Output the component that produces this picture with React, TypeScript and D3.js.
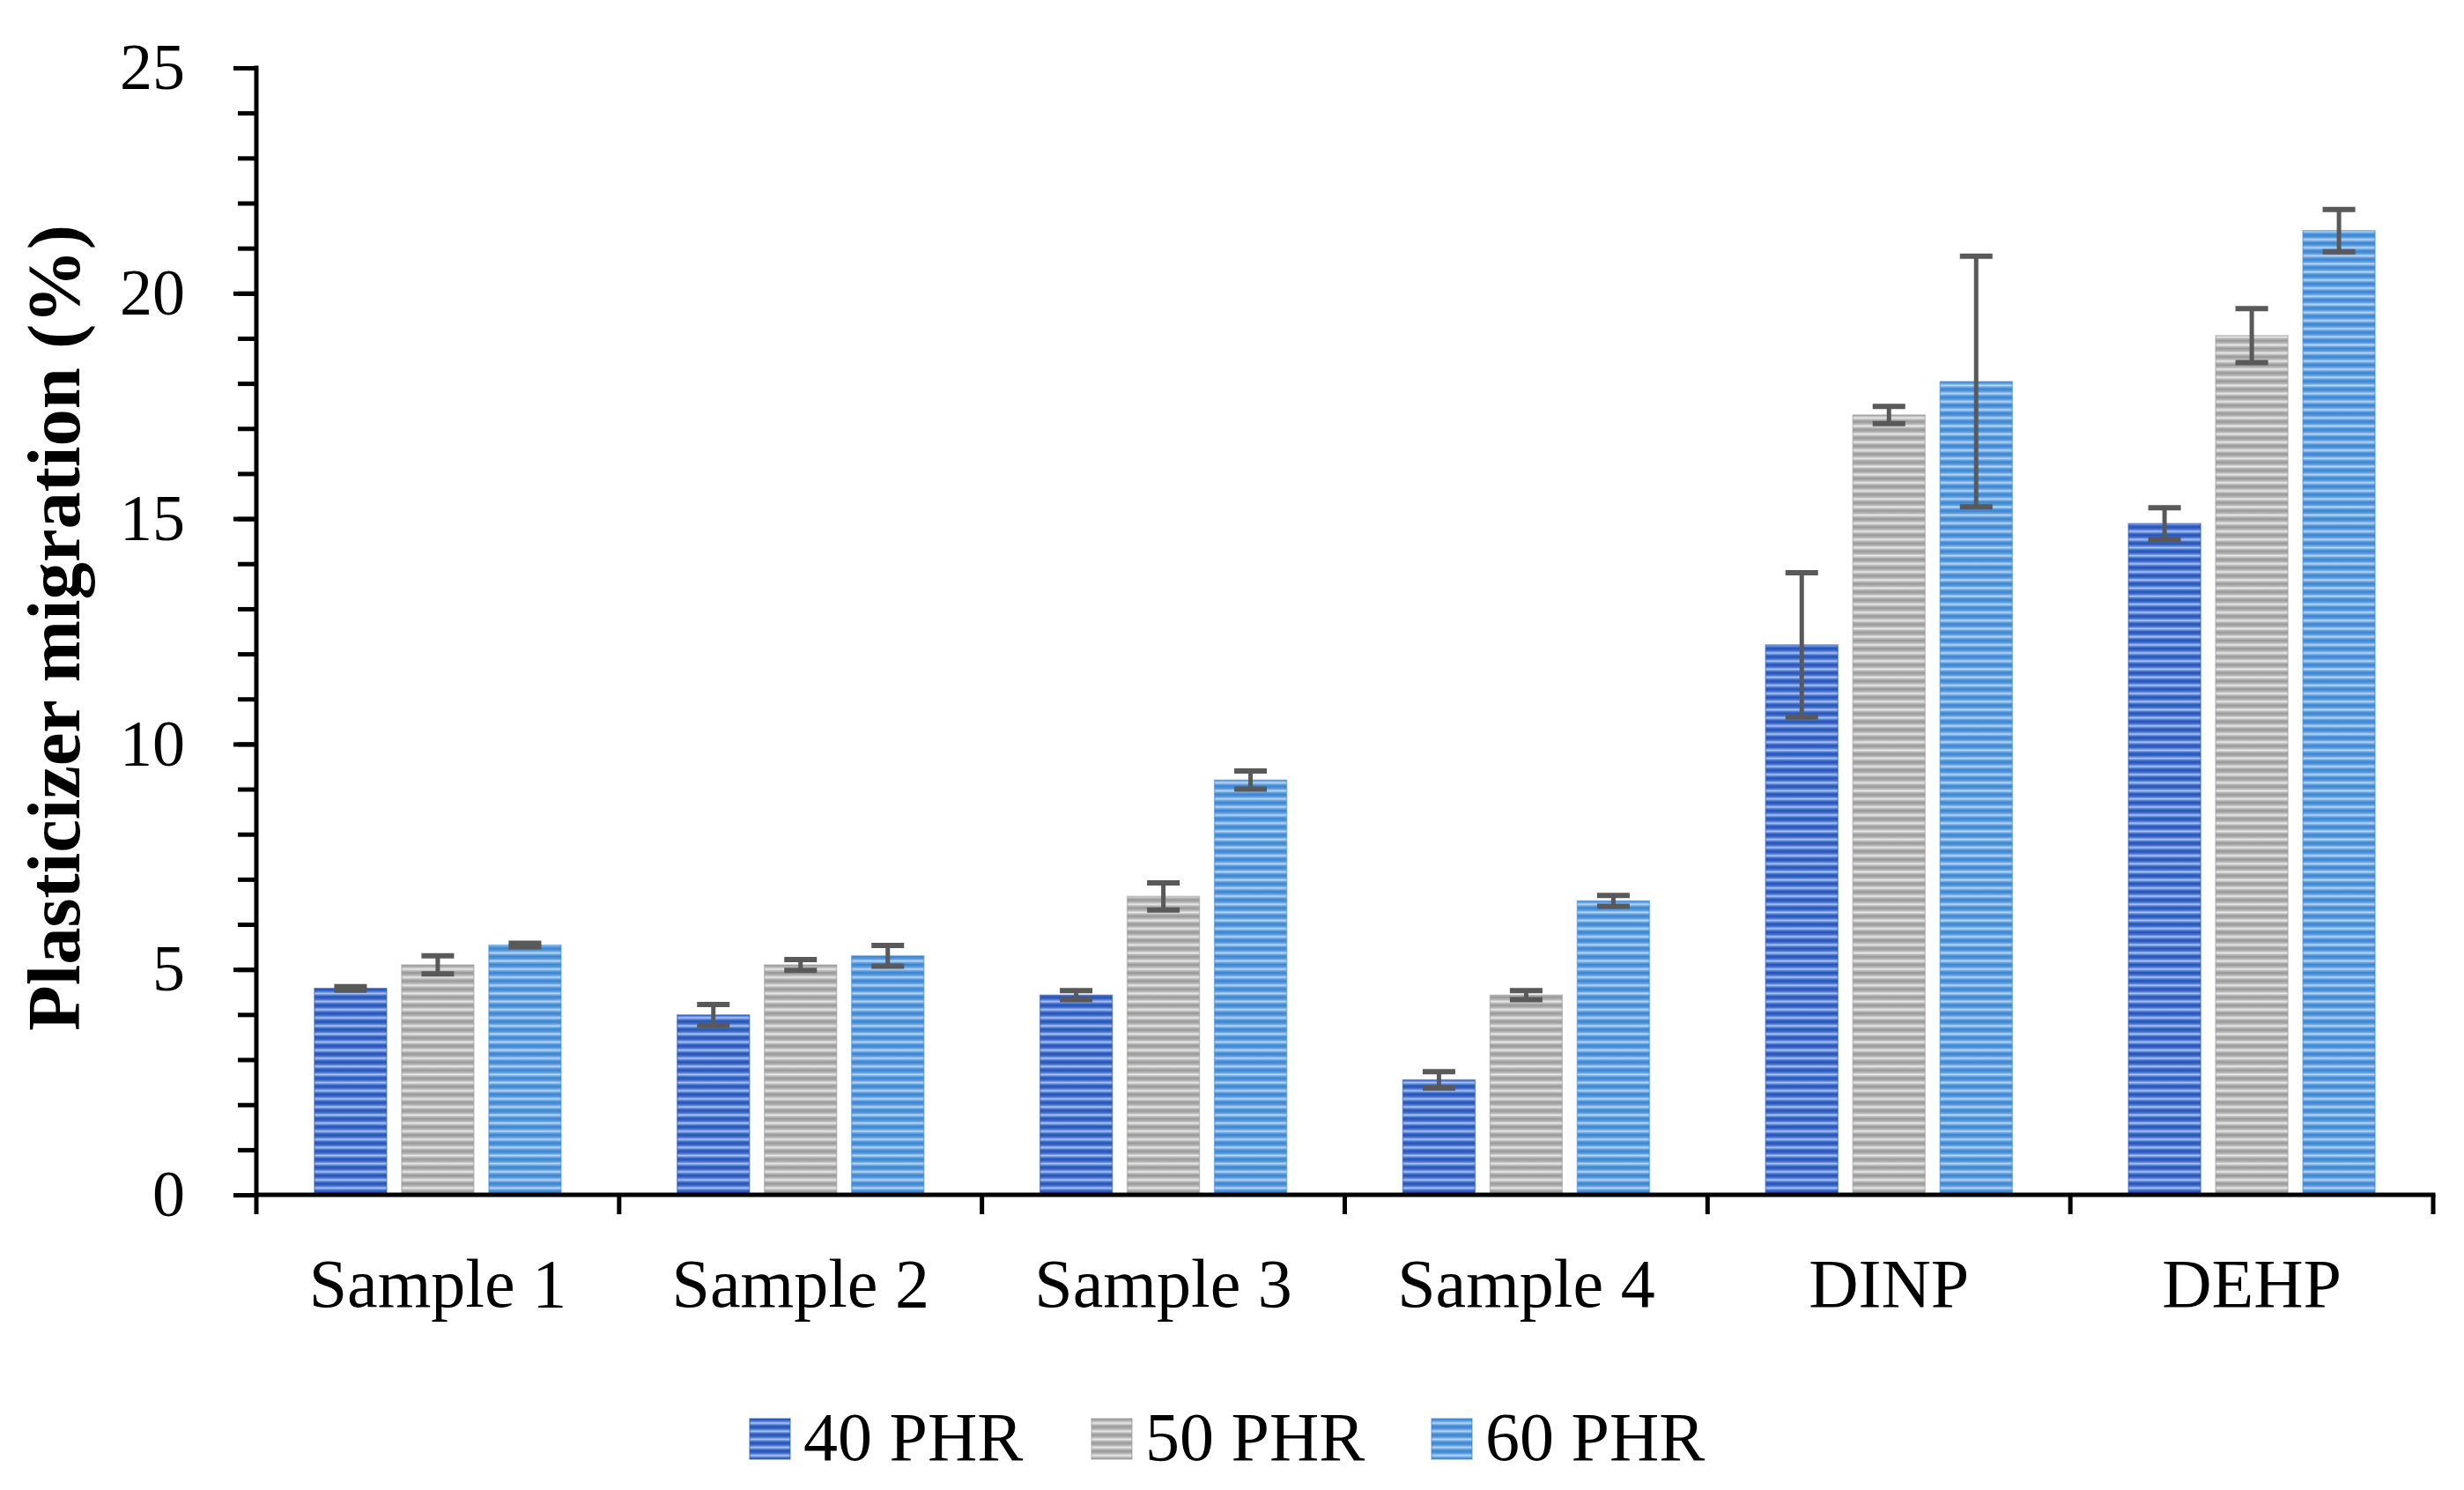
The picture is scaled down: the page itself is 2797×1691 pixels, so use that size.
import React, { useEffect, useRef } from 'react';
import * as d3 from 'd3';

// chart values
const categories = ['Sample 1', 'Sample 2', 'Sample 3', 'Sample 4', 'DINP', 'DEHP'];
const seriesNames = ['40 PHR', '50 PHR', '60 PHR'];
const phr40 = [4.58, 3.99, 4.43, 2.55, 12.2, 14.89];
const phr50 = [5.1, 5.1, 6.62, 4.43, 17.3, 19.06];
const phr60 = [5.54, 5.3, 9.2, 6.52, 18.04, 21.39];
const err40 = [0.04, 0.23, 0.1, 0.18, 1.6, 0.35];
const err50 = [0.2, 0.12, 0.3, 0.1, 0.19, 0.6];
const err60 = [0.04, 0.23, 0.2, 0.12, 2.78, 0.47];
const yMajorTicks = [0, 5, 10, 15, 20, 25];
const yMinorTicks = d3.range(0, 26, 1);

const WIDTH = 2797;
const HEIGHT = 1691;

const App: React.FC = () => {
    const svgRef = useRef<SVGSVGElement | null>(null);

    useEffect(() => {
        const margin = { top: 77, right: 35, bottom: 335, left: 291 };
        const font = "'Liberation Serif', 'Times New Roman', serif";

        const svg = d3.select(svgRef.current)
            .attr('width', WIDTH)
            .attr('height', HEIGHT);
        svg.selectAll('*').remove();

        svg.append('rect').attr('width', WIDTH).attr('height', HEIGHT).attr('fill', '#ffffff');

        const values = [phr40, phr50, phr60];
        const errors = [err40, err50, err60];

        // striped fills, like the Excel horizontal-line pattern
        const fills = [
            { id: 'p40', dark: '#2350b4', mid: '#4572cf', light: '#aac4f3' },
            { id: 'p50', dark: '#979797', mid: '#b3b3b3', light: '#e8e8e8' },
            { id: 'p60', dark: '#3a83d0', mid: '#5b9bdd', light: '#b6d7f7' },
        ];
        const defs = svg.append('defs');
        fills.forEach((f) => {
            const grad = defs.append('linearGradient')
                .attr('id', f.id + 'g')
                .attr('x1', 0).attr('x2', 0).attr('y1', 0).attr('y2', 1);
            grad.append('stop').attr('offset', '0%').attr('stop-color', f.dark);
            grad.append('stop').attr('offset', '30%').attr('stop-color', f.mid);
            grad.append('stop').attr('offset', '55%').attr('stop-color', f.light);
            grad.append('stop').attr('offset', '80%').attr('stop-color', f.mid);
            grad.append('stop').attr('offset', '100%').attr('stop-color', f.dark);
            const pat = defs.append('pattern')
                .attr('id', f.id)
                .attr('patternUnits', 'userSpaceOnUse')
                .attr('width', 12)
                .attr('height', 9.2);
            pat.append('rect').attr('width', 12).attr('height', 9.2).attr('fill', `url(#${f.id}g)`);
        });

        const x0 = d3.scaleBand<string>()
            .domain(categories)
            .range([margin.left, WIDTH - margin.right]);

        const x1 = d3.scaleBand<string>()
            .domain(seriesNames)
            .range([0, x0.bandwidth()])
            .paddingInner(0.172)
            .paddingOuter(0.666);

        const y = d3.scaleLinear()
            .domain([0, 25])
            .range([HEIGHT - margin.bottom, margin.top]);

        // bars
        seriesNames.forEach((s, si) => {
            svg.append('g')
                .selectAll('rect')
                .data(categories)
                .enter()
                .append('rect')
                .attr('x', (c) => (x0(c) ?? 0) + (x1(s) ?? 0))
                .attr('y', (c, i) => y(values[si][i]))
                .attr('width', x1.bandwidth())
                .attr('height', (c, i) => y(0) - y(values[si][i]))
                .attr('fill', `url(#${fills[si].id})`)
                .attr('stroke', fills[si].dark)
                .attr('stroke-opacity', 0.5)
                .attr('stroke-width', 1.5);
        });

        // error bars
        const capW = 37;
        seriesNames.forEach((s, si) => {
            const g = svg.append('g').attr('stroke', '#595959').attr('fill', 'none');
            categories.forEach((c, i) => {
                const cx = (x0(c) ?? 0) + (x1(s) ?? 0) + x1.bandwidth() / 2;
                const hi = y(values[si][i] + errors[si][i]);
                const lo = y(values[si][i] - errors[si][i]);
                g.append('line').attr('x1', cx).attr('x2', cx).attr('y1', hi).attr('y2', lo).attr('stroke-width', 5);
                g.append('line').attr('x1', cx - capW / 2).attr('x2', cx + capW / 2).attr('y1', hi).attr('y2', hi).attr('stroke-width', 6);
                g.append('line').attr('x1', cx - capW / 2).attr('x2', cx + capW / 2).attr('y1', lo).attr('y2', lo).attr('stroke-width', 6);
            });
        });

        // y axis: minor ticks, then major ticks with labels
        const yMinor = d3.axisLeft(y).tickValues(yMinorTicks).tickSize(21).tickSizeOuter(0).tickFormat(() => '');
        const gMinor = svg.append('g').attr('transform', `translate(${margin.left},0)`).call(yMinor);
        gMinor.select('.domain').remove();
        gMinor.selectAll('line').attr('stroke', '#000').attr('stroke-width', 5);

        const yMajor = d3.axisLeft(y).tickValues(yMajorTicks).tickSize(26).tickSizeOuter(0).tickPadding(55);
        const gMajor = svg.append('g').attr('transform', `translate(${margin.left},0)`).call(yMajor);
        gMajor.select('.domain').remove();
        gMajor.selectAll('line').attr('stroke', '#000').attr('stroke-width', 5);
        gMajor.selectAll('text')
            .attr('font-family', font)
            .attr('font-size', 74)
            .attr('fill', '#000');

        // axis lines
        const axisExt = 22;
        svg.append('line')
            .attr('x1', margin.left).attr('x2', margin.left)
            .attr('y1', y(25) - 2.5).attr('y2', y(0) + axisExt)
            .attr('stroke', '#000').attr('stroke-width', 5);
        svg.append('line')
            .attr('x1', margin.left).attr('x2', WIDTH - margin.right + 2.5)
            .attr('y1', y(0)).attr('y2', y(0))
            .attr('stroke', '#000').attr('stroke-width', 5);

        // category separators
        const bounds = categories.map((c) => (x0(c) ?? 0) + x0.bandwidth());
        svg.append('g')
            .selectAll('line')
            .data(bounds)
            .enter()
            .append('line')
            .attr('x1', (d) => d).attr('x2', (d) => d)
            .attr('y1', y(0)).attr('y2', y(0) + axisExt)
            .attr('stroke', '#000').attr('stroke-width', 5);

        // category labels
        svg.append('g')
            .selectAll('text')
            .data(categories)
            .enter()
            .append('text')
            .attr('x', (c) => (x0(c) ?? 0) + x0.bandwidth() / 2)
            .attr('y', 1483)
            .attr('text-anchor', 'middle')
            .attr('font-family', font)
            .attr('font-size', 78)
            .attr('fill', '#000')
            .text((c) => c);

        // y title
        svg.append('text')
            .attr('transform', `translate(90,${(y(0) + y(25)) / 2 - 4}) rotate(-90)`)
            .attr('text-anchor', 'middle')
            .attr('font-family', font)
            .attr('font-weight', 'bold')
            .attr('font-size', 84)
            .attr('textLength', 915)
            .attr('lengthAdjust', 'spacingAndGlyphs')
            .attr('fill', '#000')
            .text('Plasticizer migration (%)');

        // legend
        const legendX = [851, 1239, 1625];
        const legend = svg.append('g');
        seriesNames.forEach((s, si) => {
            legend.append('rect')
                .attr('x', legendX[si]).attr('y', 1610)
                .attr('width', 46).attr('height', 46)
                .attr('fill', `url(#${fills[si].id})`)
                .attr('stroke', fills[si].dark)
                .attr('stroke-opacity', 0.5)
                .attr('stroke-width', 1.5);
            legend.append('text')
                .attr('x', legendX[si] + 61).attr('y', 1657)
                .attr('font-family', font)
                .attr('font-size', 78)
                .attr('fill', '#000')
                .text(s);
        });
    }, []);

    return (
        <svg ref={svgRef} style={{ position: 'absolute', left: 0, top: 0, display: 'block' }}></svg>
    );
};

export default App;
